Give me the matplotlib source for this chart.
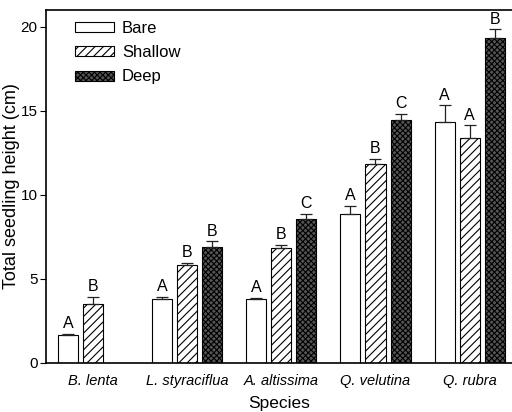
import matplotlib
matplotlib.use("Agg")
import matplotlib.pyplot as plt
import numpy as np

plt.rcParams['font.family'] = ['Liberation Sans', 'DejaVu Sans']
plt.rcParams['hatch.linewidth'] = 0.8

species = ["B. lenta", "L. styraciflua", "A. altissima", "Q. velutina", "Q. rubra"]
treatments = ["Bare", "Shallow", "Deep"]
bare = [1.65, 3.79, 3.79, 8.85, 14.33]
bare_err = [0.1, 0.15, 0.1, 0.48, 1.0]
shallow = [3.49, 5.81, 6.82, 11.85, 13.39]
shallow_err = [0.42, 0.14, 0.22, 0.3, 0.74]
deep = [np.nan, 6.92, 8.55, 14.46, 19.32]
deep_err = [np.nan, 0.32, 0.3, 0.36, 0.53]
bare_lbl = ["A", "A", "A", "A", "A"]
shallow_lbl = ["B", "B", "B", "B", "A"]
deep_lbl = ["", "B", "C", "C", "B"]

fig = plt.figure(figsize=(5.12, 4.12), dpi=100)
ax = fig.add_axes([46/512, 1-363/412, 1-46/512, (363-10)/412])

x = np.arange(len(species))
step = 0.266
w = 0.213
styles = [dict(facecolor='white', hatch=None),
          dict(facecolor='white', hatch='////'),
          dict(facecolor='#555555', hatch='xxxxxx')]
series = [(bare, bare_err, bare_lbl), (shallow, shallow_err, shallow_lbl), (deep, deep_err, deep_lbl)]
handles = []
for j, ((vals, errs, lbls), st, name) in enumerate(zip(series, styles, treatments)):
    pos = x + (j - 1) * step
    v = np.array(vals, dtype=float)
    e = np.array(errs, dtype=float)
    ok = ~np.isnan(v)
    b = ax.bar(pos[ok], v[ok], width=w, facecolor=st['facecolor'], hatch=st['hatch'],
               edgecolor='black', linewidth=0.8, label=name, zorder=2)
    handles.append(b)
    ax.errorbar(pos[ok], v[ok], yerr=[np.zeros(ok.sum()), e[ok]], fmt='none',
                ecolor='#222222', elinewidth=0.9, capsize=4, capthick=0.9, zorder=3)
    for p, val, er, l in zip(pos[ok], v[ok], e[ok], np.array(lbls)[ok]):
        ax.annotate(l, (p, val + er), xytext=(0, 2), textcoords='offset points',
                    ha='center', va='bottom', fontsize=11.5)

ax.set_xlim(-0.5, 4.45)
ax.set_ylim(0, 21.0)
ax.set_yticks([0, 5, 10, 15, 20])
ax.set_xticks(x)
ax.set_xticklabels(species, style='italic', fontsize=10.5)
ax.tick_params(axis='x', length=0, pad=8)
ax.tick_params(axis='y', direction='out', length=4, pad=2, labelsize=11)
ax.spines['right'].set_visible(False)
for s in ['left', 'bottom', 'top']:
    ax.spines[s].set_linewidth(1.2)
ax.set_xlabel("Species", fontsize=12.5, labelpad=6)
ax.set_ylabel("Total seedling height (cm)", fontsize=13)
ax.yaxis.set_label_coords(-0.056, 0.5)

ax.legend(handles=handles, loc='upper left', bbox_to_anchor=(0.045, 0.992), frameon=False,
          borderpad=0, fontsize=12, handlelength=2.3, handleheight=0.55,
          labelspacing=0.55, handletextpad=0.5)

fig.savefig("out.png", dpi=100)
